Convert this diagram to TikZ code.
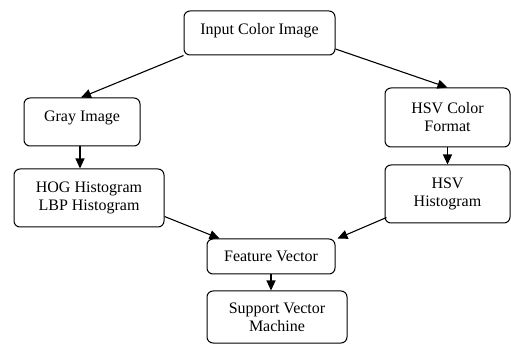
\documentclass[tikz,border=0pt]{standalone}
\usepackage{fontspec}
\setmainfont{Liberation Serif}
\usetikzlibrary{arrows.meta,calc}
\begin{document}
\begin{tikzpicture}[x=1pt,y=-1pt,
  box/.style={draw,line width=1pt,rounded corners=6pt,align=center,inner sep=0pt,
    font=\fontsize{16}{18}\selectfont},
  conn/.style={line width=1.1pt,-{Triangle[length=10pt,width=9pt]}}]
\useasboundingbox (0,0) rectangle (511,344);
\node[box,minimum width=151pt,minimum height=44pt,text depth=9pt] (in) at (259.5,33) {Input Color Image};
\node[box,minimum width=116pt,minimum height=48pt,text depth=12pt] (gray) at (82,122) {Gray Image};
\node[box,minimum width=125pt,minimum height=59pt] (hsvc) at (447.5,117.5) {HSV Color\\Format};
\node[box,minimum width=150pt,minimum height=58pt] (hog) at (89,198) {HOG Histogram\\LBP Histogram};
\node[box,minimum width=125pt,minimum height=58pt] (hsvh) at (447.5,194) {HSV\\Histogram};
\node[box,minimum width=128pt,minimum height=35pt] (fv) at (271,256.5) {Feature Vector};
\node[box,minimum width=140pt,minimum height=52pt] (svm) at (277,317) {Support Vector\\Machine};
\draw[conn] (in.south west) -- ($(gray.north)+(-1,0)$);
\draw[conn] ($(in.east)+(0,16)$) -- (hsvc.north);
\draw[conn] ($(gray.south)+(-2,0)$) -- ($(hog.north)+(-9,0)$);
\draw[conn] (hsvc.south) -- (hsvh.north);
\draw[conn] ($(hog.south east)+(0,-11)$) -- ($(fv.north west)+(13,0)$);
\draw[conn] ($(hsvh.south west)+(2,-6)$) -- ($(fv.north east)+(2,0)$);
\draw[conn] (fv.south) -- (svm.north -| fv.south);
\end{tikzpicture}
\end{document}
